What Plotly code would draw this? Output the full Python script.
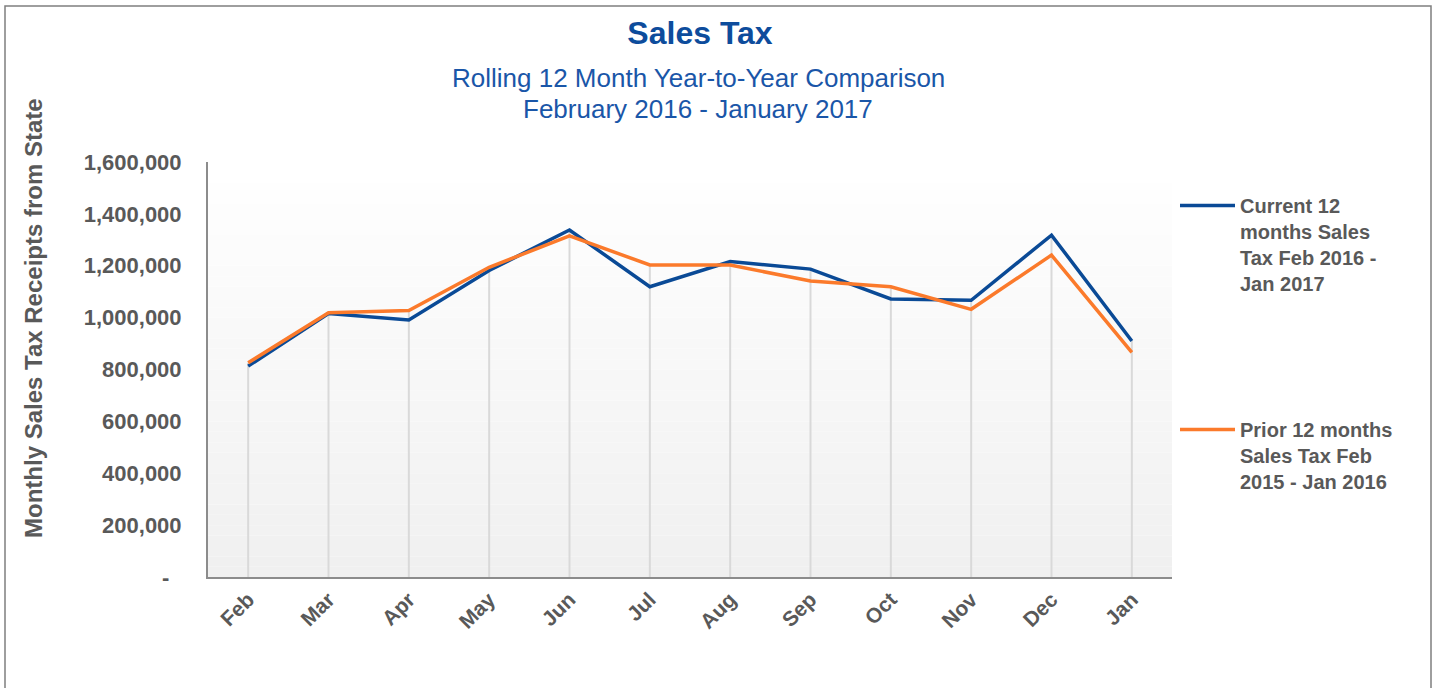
import plotly.graph_objects as go

months = ["Feb", "Mar", "Apr", "May", "Jun", "Jul", "Aug", "Sep", "Oct", "Nov", "Dec", "Jan"]
current = [813000, 1016000, 991000, 1182000, 1338000, 1119000, 1216000, 1187000, 1072000, 1067000, 1318000, 910000]
prior = [826000, 1019000, 1027000, 1194000, 1315000, 1203000, 1203000, 1141000, 1119000, 1032000, 1241000, 866000]
current_name = "Current 12<br>months Sales<br>Tax Feb 2016 -<br>Jan 2017"
prior_name = "Prior 12 months<br>Sales Tax Feb<br>2015 - Jan 2016"
y_ticks = [0, 200000, 400000, 600000, 800000, 1000000, 1200000, 1400000, 1600000]
y_ticktext = ["-\u00a0\u00a0", "200,000", "400,000", "600,000", "800,000",
              "1,000,000", "1,200,000", "1,400,000", "1,600,000"]

FONT = "Arial, 'Liberation Sans', Helvetica, sans-serif"
GRAY = "#595959"
BLUE_T = "#0d4c9c"
BLUE = "#0a4a96"
ORANGE = "#fb7a2b"

# plot area in page pixels
L, R, T, B = 208, 1172, 162, 577
W, H = 1438, 688
PW, PH = R - L, B - T


def px(x):
    return (x - L) / PW


def py(y):
    return (B - y) / PH


fig = go.Figure()

# drop lines from axis to the higher of the two series
dx, dy = [], []
for m, c, p in zip(months, current, prior):
    dx += [m, m, None]
    dy += [0, max(c, p), None]
fig.add_trace(go.Scatter(x=dx, y=dy, mode="lines", line=dict(color="#d9d9d9", width=2),
                         showlegend=False, hoverinfo="skip"))

fig.add_trace(go.Scatter(x=months, y=current, mode="lines", name=current_name,
                         line=dict(color=BLUE, width=3.5), legend="legend"))
fig.add_trace(go.Scatter(x=months, y=prior, mode="lines", name=prior_name,
                         line=dict(color=ORANGE, width=3.5), legend="legend2"))

# gradient plot background
shapes = []
n = 40
for i in range(n):
    t = i / (n - 1)
    v = int(round(240 + (255 - 240) * t))
    shapes.append(dict(type="rect", xref="x domain", yref="y domain",
                       x0=0, x1=1, y0=i / n, y1=(i + 1) / n,
                       fillcolor=f"rgb({v},{v},{v})", line=dict(width=0), layer="below"))
# outer frame
shapes.append(dict(type="rect", xref="paper", yref="paper",
                   x0=px(5), x1=px(1431), y0=py(720), y1=py(6),
                   line=dict(color="#7f7f7f", width=1.5), fillcolor="rgba(0,0,0,0)", layer="above"))

legend_font = dict(size=20, color=GRAY, family=FONT, weight="bold")

fig.update_layout(
    width=W, height=H,
    margin=dict(l=L, r=W - R, t=T, b=H - B),
    paper_bgcolor="white", plot_bgcolor="white",
    font=dict(family=FONT, color=GRAY),
    title=dict(text="<b>Sales Tax</b>", x=700 / W, xanchor="center", xref="container",
               y=1 - 33 / H, yanchor="middle", yref="container",
               font=dict(size=32, color=BLUE_T, family=FONT)),
    shapes=shapes,
    showlegend=True,
    legend=dict(x=px(1175), xanchor="left", y=py(186), yanchor="top",
                valign="top", bgcolor="rgba(0,0,0,0)", itemwidth=55,
                font=legend_font),
    legend2=dict(x=px(1175), xanchor="left", y=py(410), yanchor="top",
                 valign="top", bgcolor="rgba(0,0,0,0)", itemwidth=55,
                 font=legend_font),
    annotations=[
        dict(text="Rolling 12 Month Year-to-Year Comparison",
             xref="paper", yref="paper", x=px(698), y=py(78),
             xanchor="center", yanchor="middle", showarrow=False,
             font=dict(size=26, color="#1a56a8", family=FONT)),
        dict(text="February 2016 - January 2017",
             xref="paper", yref="paper", x=px(698), y=py(109),
             xanchor="center", yanchor="middle", showarrow=False,
             font=dict(size=26, color="#1a56a8", family=FONT)),
        dict(text="<b>Monthly Sales Tax Receipts from State</b>",
             xref="paper", yref="paper", x=px(33), y=py(318),
             xanchor="center", yanchor="middle", textangle=-90, showarrow=False,
             font=dict(size=24, color=GRAY, family=FONT)),
    ],
    hovermode=False,
)

fig.update_xaxes(
    type="category", range=[-0.5, 11.5],
    showline=True, linecolor="#8c8c8c", linewidth=2,
    showgrid=False, zeroline=False,
    tickangle=-45, tickfont=dict(size=21, color=GRAY, family=FONT, weight="bold"),
    ticks="",
)
fig.update_yaxes(
    range=[0, 1600000], tickvals=y_ticks, ticktext=y_ticktext,
    showline=True, linecolor="#8c8c8c", linewidth=2,
    showgrid=False, zeroline=False,
    tickfont=dict(size=22, color=GRAY, family=FONT, weight="bold"),
    ticks="outside", ticklen=20, tickcolor="rgba(0,0,0,0)",
)

fig.write_html("out.html", config={"displayModeBar": False},
               post_script="document.body.style.margin='0';")
